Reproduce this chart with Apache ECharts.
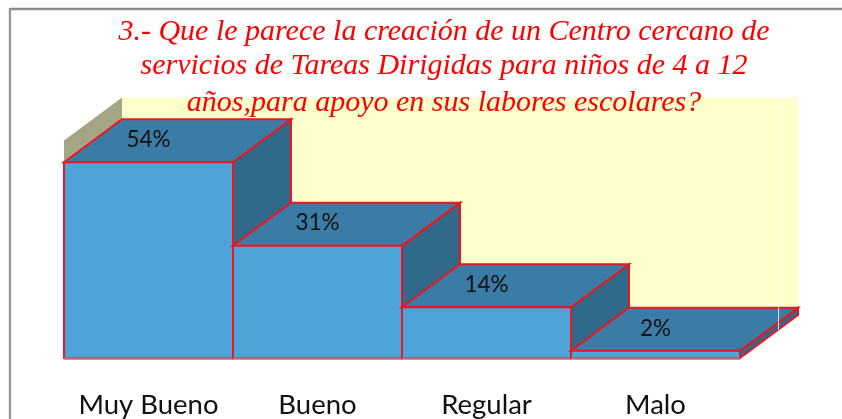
<!DOCTYPE html>
<html><head><meta charset="utf-8">
<style>html,body{margin:0;padding:0;background:#fff}#c{width:842px;height:419px}</style>
<script src="https://cdn.jsdelivr.net/npm/echarts@6/dist/echarts.min.js"></script>
</head><body><div id="c"></div>
<script>
const categories = ['Muy Bueno','Bueno','Regular','Malo'];
const values = [54,31,14,2];
const titleLines = ['3.- Que le parece la creación de un Centro cercano de','servicios de Tareas Dirigidas para niños de 4 a 12','años,para apoyo en sus labores escolares?'];
const yMax = 60;
const DX = 58, DY = -43;
const RED = '#f0141e';
const chart = echarts.init(document.getElementById('c'), null, {renderer:'canvas'});
function poly(points, fill, stroke, lw){
  return {type:'polygon', shape:{points}, style:{fill, stroke:stroke||'none', lineWidth:lw||0, lineJoin:'miter'}};
}
chart.setOption({
  animation:false,
  backgroundColor:'#fff',
  graphic:[
    {type:'line', z:-10, shape:{x1:10,y1:9,x2:842,y2:9}, style:{stroke:'#8c8c8c',lineWidth:2.4}},
    {type:'line', z:-10, shape:{x1:10,y1:8,x2:10,y2:419}, style:{stroke:'#9a9a9a',lineWidth:2.4}},
    {type:'line', z:40, shape:{x1:778.5,y1:97,x2:778.5,y2:330}, style:{stroke:'rgba(255,255,255,0.75)',lineWidth:1}},
    ...titleLines.map((t,i)=>({type:'text', z:50, style:{text:t, x:444, y:[32,66,103][i], align:'center', verticalAlign:'middle', fill:'#ff0000', font:'italic 30px "Liberation Serif"'}}))
  ],
  grid:{left:64, width:676, top:140.5, height:217.5},
  xAxis:{type:'category', data:categories, axisLine:{show:false}, axisTick:{show:false},
    axisLabel:{interval:0, color:'#111', fontFamily:'Lato', fontSize:27.5, margin:33}},
  yAxis:{type:'value', min:0, max:yMax, interval:10, show:false, splitLine:{show:false}},
  series:[
    {type:'custom', coordinateSystem:'cartesian2d', data:[0], silent:true, z:1, clip:false,
     renderItem(params, api){
       const a=api.coord([0,0]), w=api.size([1,0])[0], x0=a[0]-w/2, x1=x0+w*categories.length;
       const y0=api.coord([0,0])[1], y1=api.coord([0,yMax])[1];
       return {type:'group',children:[
         poly([[x0+DX,y0+DY],[x1+DX,y0+DY],[x1+DX,y1+DY],[x0+DX,y1+DY]],'#ffffcc'),
         poly([[x0,y0],[x0+DX,y0+DY],[x0+DX,y1+DY],[x0,y1]],'#a5a583')
       ]};
     }},
    {type:'custom', coordinateSystem:'cartesian2d', data:values.map((v,i)=>[i,v]), z:2, clip:false,
     encode:{x:0,y:1},
     renderItem(params, api){
       const i=api.value(0), v=api.value(1);
       const c=api.coord([i,v]), b=api.coord([i,0]), w=api.size([1,0])[0];
       const xl=c[0]-w/2, xr=c[0]+w/2, yt=c[1], yb=b[1];
       return {type:'group', children:[
         poly([[xr,yb],[xr+DX,yb+DY],[xr+DX,yt+DY],[xr,yt]],'#31698a',RED,2),
         poly([[xl,yt],[xl+DX,yt+DY],[xr+DX,yt+DY],[xr,yt]],'#3b7ca6',RED,2),
         poly([[xl,yb],[xr,yb],[xr,yt],[xl,yt]],'#4ea3d9',RED,2),
         {type:'line', shape:{x1:xl,y1:yb+0.5,x2:xr,y2:yb+0.5}, style:{stroke:'#a07880',lineWidth:2.5}},
         {type:'text', style:{text:v+'%', x:c[0], y:yt+DY/2-1, align:'center', verticalAlign:'middle', fill:'#111', font:'22.5px Lato'}}
       ]};
     }}
  ]
});
</script></body></html>
